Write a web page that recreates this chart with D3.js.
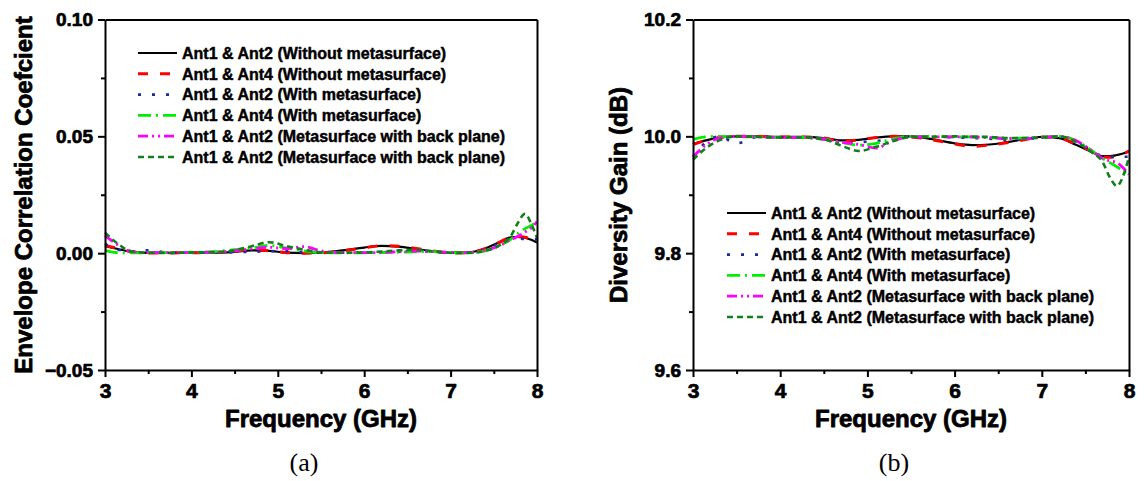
<!DOCTYPE html>
<html><head><meta charset="utf-8">
<script src="https://cdn.jsdelivr.net/npm/d3@7"></script>
<style>
body{margin:0;background:#fff;}
svg{display:block;}
</style></head>
<body><svg id="c" width="1147" height="481" font-family='"Liberation Sans",Arial,sans-serif'></svg>
<script>
// ---------- data ----------
const freq = [3,3.15,3.3,3.5,3.75,4,4.25,4.5,4.7,4.9,5.1,5.3,5.5,5.75,6,6.2,6.4,6.6,6.8,7,7.2,7.4,7.55,7.7,7.78,7.86,7.94,8];

const seriesNames = [
  "Ant1 & Ant2 (Without metasurface)",
  "Ant1 & Ant4 (Without metasurface)",
  "Ant1 & Ant2 (With metasurface)",
  "Ant1 & Ant4 (With metasurface)",
  "Ant1 & Ant2 (Metasurface with back plane)",
  "Ant1 & Ant2 (Metasurface with back plane)"
];

// Envelope correlation coefficient (panel a)
const ecc12Without = [0.0030,0.0018,0.0006,0.0001,0.0001,0.0002,0.0002,0.0006,0.0012,0.0010,0.0002,0.0000,0.0002,0.0012,0.0024,0.0031,0.0028,0.0018,0.0008,0.0001,0.0003,0.0020,0.0045,0.0068,0.0070,0.0066,0.0056,0.0045];
const ecc14Without = [0.0033,0.0020,0.0007,0.0001,0.0001,0.0002,0.0003,0.0008,0.0015,0.0010,0.0002,0.0000,0.0001,0.0010,0.0023,0.0032,0.0030,0.0020,0.0009,0.0001,0.0002,0.0019,0.0044,0.0068,0.0071,0.0068,0.0058,0.0048];
const ecc12With    = [0.0040,0.0015,0.0008,0.0012,0.0002,0.0003,0.0002,0.0004,0.0006,0.0008,0.0010,0.0004,0.0002,0.0002,0.0003,0.0004,0.0006,0.0008,0.0006,0.0002,0.0003,0.0015,0.0040,0.0060,0.0062,0.0060,0.0058,0.0060];
const ecc14With    = [0.0012,0.0002,0.0001,0.0002,0.0002,0.0004,0.0006,0.0015,0.0022,0.0033,0.0022,0.0010,0.0002,0.0001,0.0001,0.0002,0.0004,0.0006,0.0007,0.0003,0.0001,0.0010,0.0030,0.0060,0.0085,0.0105,0.0120,0.0135];
const ecc12BackA   = [0.0075,0.0035,0.0008,0.0002,0.0002,0.0003,0.0004,0.0010,0.0018,0.0025,0.0020,0.0028,0.0010,0.0002,0.0002,0.0003,0.0006,0.0009,0.0007,0.0003,0.0002,0.0012,0.0030,0.0058,0.0072,0.0090,0.0110,0.0135];
const ecc12BackB   = [0.0088,0.0040,0.0008,0.0002,0.0001,0.0003,0.0004,0.0012,0.0030,0.0047,0.0030,0.0015,0.0004,0.0002,0.0003,0.0007,0.0012,0.0014,0.0008,0.0002,0.0001,0.0010,0.0030,0.0075,0.0130,0.0168,0.0120,0.0065];

// Diversity gain (panel b)
const dg12Without = [9.987,9.993,9.998,10.000,10.000,9.999,9.999,9.997,9.993,9.994,9.998,10.000,10.000,9.995,9.988,9.985,9.986,9.990,9.995,9.999,9.997,9.985,9.975,9.966,9.966,9.968,9.971,9.975];
const dg14Without = [9.986,9.993,9.998,10.000,10.000,9.999,9.999,9.997,9.992,9.994,9.998,10.000,9.999,9.994,9.987,9.983,9.985,9.989,9.994,9.999,9.997,9.986,9.976,9.965,9.964,9.966,9.970,9.975];
const dg12With    = [9.965,9.990,10.000,9.988,9.999,9.998,9.998,9.996,9.988,9.990,9.992,9.996,9.999,9.999,9.998,9.997,9.996,9.994,9.995,9.998,9.999,9.990,9.978,9.966,9.965,9.966,9.965,9.965];
const dg14With    = [9.995,9.999,10.000,9.999,9.999,9.998,9.998,9.995,9.990,9.985,9.988,9.996,10.000,10.000,9.999,9.999,9.998,9.997,9.997,9.998,10.000,9.992,9.978,9.962,9.955,9.948,9.940,9.935];
const dg12BackA   = [9.965,9.985,9.997,10.000,9.999,9.998,9.998,9.995,9.990,9.986,9.980,9.993,9.999,9.999,9.999,9.999,9.998,9.996,9.996,9.998,10.000,9.992,9.978,9.962,9.958,9.955,9.945,9.935];
const dg12BackB   = [9.960,9.980,9.993,10.000,9.999,9.998,9.998,9.995,9.984,9.975,9.982,9.992,9.999,9.999,10.000,9.999,9.999,9.997,9.997,9.998,10.000,9.990,9.975,9.955,9.930,9.915,9.935,9.965];

const xTicks = [3,4,5,6,7,8];
const eccTicks = [-0.05,0,0.05,0.10];
const dgTicks = [9.6,9.8,10.0,10.2];

// ---------- styles ----------
const styles = [
  {color:"#000000", dash:null,             width:2.2},
  {color:"#ff0000", dash:"10,12",          width:3},
  {color:"#1c2a9c", dash:"3,11",           width:2.6},
  {color:"#00ee00", dash:"13,5,2,5",       width:2.8},
  {color:"#ff00ff", dash:"10,4,2,4,2,4",   width:2.8},
  {color:"#12801a", dash:"6,4",            width:2.6}
];

const svg = d3.select("#c");
const FONT = '"Liberation Sans",Arial,sans-serif';

function boldText(sel, size, stroke){
  sel.attr("font-size",size).attr("font-weight","bold").attr("font-family",FONT)
     .attr("fill","#000").attr("stroke","#000").attr("stroke-width",stroke)
     .attr("stroke-linejoin","round");
}

function panel(opts){
  const x = d3.scaleLinear().domain([3,8]).range([opts.x0, opts.x1]);
  const y = d3.scaleLinear().domain(opts.yDomain).range([370, 19.5]);
  const g = svg.append("g");

  // data lines
  const line = d3.line().x((d,i)=>x(freq[i])).y(d=>y(d)).curve(d3.curveMonotoneX);
  opts.series.forEach((s,k)=>{
    g.append("path").attr("d", line(s)).attr("fill","none")
      .attr("stroke", styles[k].color).attr("stroke-width", styles[k].width)
      .attr("stroke-dasharray", styles[k].dash).attr("stroke-linejoin","round");
  });

  // minor ticks
  const xMinor = d3.range(3.5, 8, 1);
  g.append("g").attr("transform","translate(0,370)")
    .call(d3.axisBottom(x).tickValues(xMinor).tickSize(4).tickSizeOuter(0).tickFormat(""))
    .call(a=>a.select(".domain").remove());
  g.append("g").attr("transform",`translate(${opts.x0},0)`)
    .call(d3.axisLeft(y).tickValues(opts.yMinor).tickSize(4).tickSizeOuter(0).tickFormat(""))
    .call(a=>a.select(".domain").remove());

  // major axes
  const xa = g.append("g").attr("transform","translate(0,370)")
    .call(d3.axisBottom(x).tickValues(xTicks).tickSize(7).tickSizeOuter(0).tickPadding(6).tickFormat(d3.format("d")));
  boldText(xa.selectAll("text"), 21, 0.7);
  const ya = g.append("g").attr("transform",`translate(${opts.x0},0)`)
    .call(d3.axisLeft(y).tickValues(opts.yTicks).tickSize(7).tickSizeOuter(0).tickPadding(5).tickFormat(opts.fmt));
  boldText(ya.selectAll("text"), 19, 0.7);
  // frame top/right
  g.append("g").attr("transform","translate(0,19.5)")
    .call(d3.axisTop(x).tickValues([]).tickSizeOuter(0));
  g.append("g").attr("transform",`translate(${opts.x1},0)`)
    .call(d3.axisRight(y).tickValues([]).tickSizeOuter(0));
  g.selectAll(".domain, .tick line").attr("stroke","#000").attr("stroke-width",2);

  // titles
  const cx = (opts.x0+opts.x1)/2;
  boldText(g.append("text").attr("x",cx).attr("y",427).attr("text-anchor","middle")
    .text("Frequency (GHz)"), 24, 0.8);
  boldText(g.append("text").attr("transform",`translate(${opts.yLabelX},${opts.yLabelY}) rotate(-90)`)
    .attr("text-anchor","middle").attr("dy","0.35em").text(opts.yLabel), 24, 0.8);
  g.append("text").attr("x",opts.capX).attr("y",471).attr("text-anchor","middle")
    .attr("font-family",'"Liberation Serif","Times New Roman",serif')
    .attr("font-size",26).attr("fill","#000").text(opts.cap);

  // legend
  const lg = g.append("g");
  seriesNames.forEach((name,k)=>{
    const yy = opts.legY + k*20.8;
    lg.append("line").attr("x1",opts.legX).attr("x2",opts.legX+39).attr("y1",yy).attr("y2",yy)
      .attr("stroke",styles[k].color).attr("stroke-width",styles[k].width)
      .attr("stroke-dasharray",styles[k].dash);
    boldText(lg.append("text").attr("x",opts.legX+44).attr("y",yy).attr("dy","0.36em").text(name), 16, 0.45);
  });
}

panel({
  x0:105, x1:537, yDomain:[-0.05,0.10], yTicks:eccTicks,
  yMinor:[-0.025,0.025,0.075], fmt:d3.format(".2f"),
  series:[ecc12Without,ecc14Without,ecc12With,ecc14With,ecc12BackA,ecc12BackB],
  yLabel:"Envelope Correlation Coefcient", yLabelX:24, yLabelY:195,
  cap:"(a)", capX:304, legX:138, legY:53
});
panel({
  x0:693, x1:1129, yDomain:[9.6,10.2], yTicks:dgTicks,
  yMinor:[9.7,9.9,10.1], fmt:d3.format(".1f"),
  series:[dg12Without,dg14Without,dg12With,dg14With,dg12BackA,dg12BackB],
  yLabel:"Diversity Gain (dB)", yLabelX:619, yLabelY:195,
  cap:"(b)", capX:894, legX:727, legY:213
});
</script></body></html>
